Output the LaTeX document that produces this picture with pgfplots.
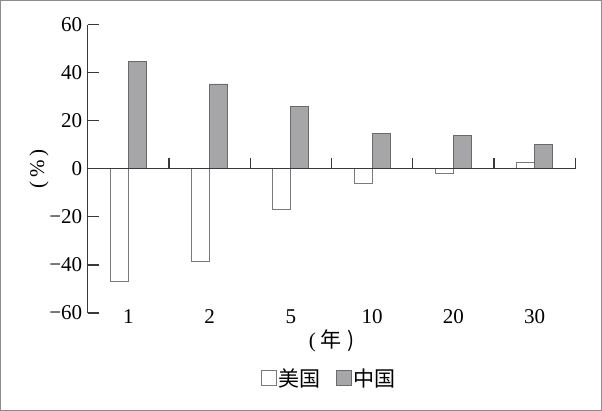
\documentclass[border=0pt]{standalone}
\usepackage{fontspec}
\setmainfont{Liberation Serif}
\newfontfamily\cjk{Noto Sans CJK SC}
\usepackage{pgfplots}
\pgfplotsset{compat=1.18}
\definecolor{cnfill}{HTML}{A6A6A9}
\definecolor{cnline}{HTML}{6A6A6A}
\definecolor{usline}{HTML}{7A7A7A}
\definecolor{axline}{HTML}{3A3A3A}
\definecolor{frame}{HTML}{8C8C8C}
\begin{document}
\begin{tikzpicture}[font=\fontsize{21}{25}\selectfont]
\begin{axis}[
    name=ax,
    scale only axis,
    width=487pt, height=288pt,
    xmin=0.5, xmax=6.5, ymin=-60, ymax=60,
    clip=false,
    ybar=0pt, bar width=18pt,
    axis y line=left, axis x line=bottom,
    axis line style={-, axline, line width=1.2pt},
    x axis line style={draw=none},
    xtick={1,...,6},
    xticklabels={1,2,5,10,20,30},
    x tick style={draw=none},
    xticklabel style={anchor=center, yshift=-4pt},
    ytick={-60,-40,-20,0,20,40,60},
    yticklabels={−60,−40,−20,0,20,40,60},
    yticklabel style={xshift=-2pt},
    y tick style={axline, line width=1.2pt},
    tick align=inside, major tick length=11pt,
    ylabel={(\hspace{4pt}\%\hspace{4pt})},
    ylabel style={at={(axis description cs:-0.1,0.5)}, anchor=center},
    xlabel={(\hspace{5pt}\cjk{年}\hspace{5pt})},
    xlabel style={at={(axis description cs:0.5,-0.097)}, anchor=center},
    legend style={at={(axis description cs:0.495,-0.226)}, anchor=center,
        draw=none, fill=none, legend columns=2,
        /tikz/every even column/.append style={column sep=14pt},
        nodes={inner sep=1.5pt}},
    legend image code/.code={\draw[#1, line width=1pt] (0pt,-7.5pt) rectangle (15pt,7.5pt);},
]
\addplot[fill=white, draw=usline, line width=0.9pt]
    coordinates {(1,-47) (2,-38.6) (3,-16.8) (4,-6) (5,-2) (6,2.5)};
\addplot[fill=cnfill, draw=cnline, line width=0.9pt]
    coordinates {(1,44.6) (2,35.3) (3,26.1) (4,14.9) (5,13.8) (6,10)};
\legend{\cjk{美国},\cjk{中国}}
\draw[axline, line width=1.2pt] (axis cs:0.5,0) -- (axis cs:6.5,0);
\pgfplotsinvokeforeach{1.5,2.5,3.5,4.5,5.5,6.5}{
    \draw[axline, line width=1.2pt] (axis cs:#1,0) -- ++(0pt,11pt);
}
\end{axis}
\draw[frame, line width=1.2pt] ([shift={(-87pt,-97pt)}]ax.south west)
    rectangle ([shift={(26pt,24pt)}]ax.north east);
\end{tikzpicture}
\end{document}
